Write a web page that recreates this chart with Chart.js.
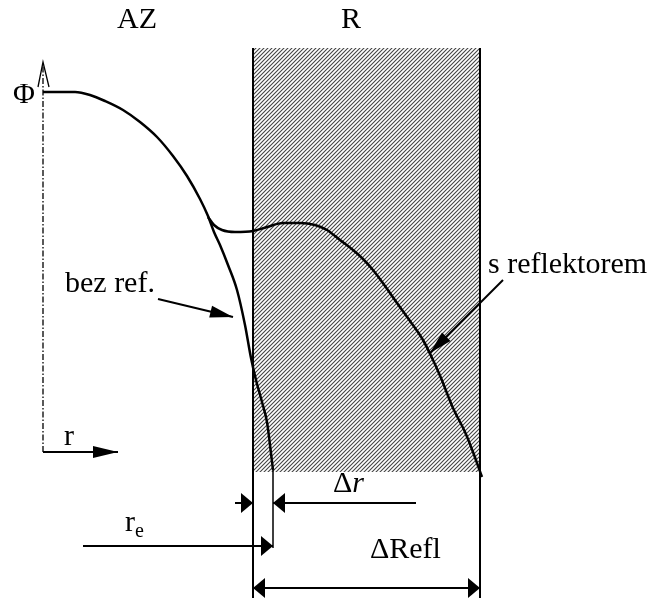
<!DOCTYPE html>
<html>
<head>
<meta charset="utf-8">
<script src="https://cdn.jsdelivr.net/npm/chart.js@4.4.1/dist/chart.umd.min.js"></script>
<style>
  html, body { margin: 0; padding: 0; background: #fff; }
  #wrap { width: 660px; height: 598px; }
</style>
</head>
<body>
<div id="wrap"><canvas id="schema" width="660" height="598"></canvas></div>
<script>
// Průběhy toku (r doprava, Φ dolů v jednotkách listu)
const bezRef = [
    [43, 92], [75, 92], [90, 95], [105, 101], [123, 110], [140, 122], [157, 137],
    [173, 156], [187, 176], [200, 199], [208, 216], [214, 232], [220, 245],
    [228, 265], [237, 290], [245, 325], [251, 358], [256, 380], [262, 402],
    [267, 422], [270, 445], [273, 470]
];
const sReflektorem = [
    [208, 217], [214, 225], [222, 230], [235, 232], [253, 231], [267, 227],
    [283, 223], [300, 223], [315, 225], [327, 230], [340, 240], [353, 250],
    [363, 259], [373, 270], [385, 286], [397, 303], [410, 321], [423, 340],
    [433, 360], [441, 378], [453, 408], [465, 432], [473, 452], [482, 477]
];

// Hranice zóny AZ / reflektoru R
const reflektorR = [253, 480];
const reflektorPhi = [48, 472];
const dolniOkraj = 598;

// Osy
const osaPhi = [[43, 452], [43, 64]];
const osaPhiHrot = [[38, 87], [43, 62], [49, 87]];
const osaR = [[43, 452], [118, 452]];

// Kóty
const deltaRKota = 503;
const reKota = 546;
const deltaReflKota = 588;
const reHrana = 273;
const reHranaPhi = [470, 548];
const deltaRKonec = 416;
const reZacatek = 83;

// Odkazové šipky k popiskům
const sipkaBezRef = [[158, 299], [233, 317]];
const sipkaSRefl = [[503, 280], [430, 353]];

const canvas = document.getElementById('schema');
const ctx2d = canvas.getContext('2d');

function hatchPattern() {
    const c = document.createElement('canvas');
    c.width = 4; c.height = 4;
    const g = c.getContext('2d');
    g.strokeStyle = '#444';
    g.lineWidth = 1.1;
    g.beginPath();
    g.moveTo(0, 4); g.lineTo(4, 0);
    g.moveTo(-1, 1); g.lineTo(1, -1);
    g.moveTo(3, 5); g.lineTo(5, 3);
    g.stroke();
    return ctx2d.createPattern(c, 'repeat');
}

const pts = arr => arr.map(p => ({ x: p[0], y: p[1] }));
const seg = (a, b) => [{ x: a[0], y: a[1] }, { x: b[0], y: b[1] }];

function line(data, width, extra) {
    return Object.assign({
        data: data,
        showLine: true,
        borderColor: '#000',
        borderWidth: width,
        pointRadius: 0,
        fill: false,
        tension: 0,
        order: 0
    }, extra || {});
}

// šipky: [odkud, kam, délka hrotu, polovina šířky]
const hroty = [
    [sipkaBezRef[0], sipkaBezRef[1], 23, 6],
    [sipkaSRefl[0], sipkaSRefl[1], 23, 6],
    [osaR[0], osaR[1], 25, 6],
    [[235, deltaRKota], [reflektorR[0], deltaRKota], 12, 10],
    [[deltaRKonec, deltaRKota], [reHrana, deltaRKota], 12, 10],
    [[reZacatek, reKota], [reHrana, reKota], 12, 10],
    [[reflektorR[1], deltaReflKota], [reflektorR[0], deltaReflKota], 12, 10],
    [[reflektorR[0], deltaReflKota], [reflektorR[1], deltaReflKota], 12, 10]
];

const popisky = [
    { t: 'AZ', x: 137, y: 28, align: 'center' },
    { t: 'R', x: 351, y: 28, align: 'center' },
    { t: 'Φ', x: 24, y: 103, align: 'center' },
    { t: 'r', x: 69, y: 445, align: 'center' },
    { t: 'bez ref.', x: 65, y: 292, align: 'left' },
    { t: 's reflektorem', x: 488, y: 273, align: 'left' },
    { t: 'ΔRefl', x: 370, y: 558, align: 'left' }
];

const schemaPlugin = {
    id: 'schemaPopisky',
    afterDatasetsDraw(chart) {
        const { ctx, scales: { x, y } } = chart;
        const px = v => x.getPixelForValue(v);
        const py = v => y.getPixelForValue(v);
        ctx.save();
        ctx.fillStyle = '#000';

        hroty.forEach(h => {
            const fx = px(h[0][0]), fy = py(h[0][1]);
            const tx = px(h[1][0]), ty = py(h[1][1]);
            const ang = Math.atan2(ty - fy, tx - fx);
            const len = h[2], half = h[3];
            const bx = tx - Math.cos(ang) * len, by = ty - Math.sin(ang) * len;
            ctx.beginPath();
            ctx.moveTo(tx, ty);
            ctx.lineTo(bx + Math.sin(ang) * half, by - Math.cos(ang) * half);
            ctx.lineTo(bx - Math.sin(ang) * half, by + Math.cos(ang) * half);
            ctx.closePath();
            ctx.fill();
        });

        ctx.font = '30px "Liberation Serif", "DejaVu Serif", serif';
        ctx.textBaseline = 'alphabetic';
        popisky.forEach(p => {
            ctx.textAlign = p.align;
            ctx.fillText(p.t, px(p.x), py(p.y));
        });

        // Δr s kurzívou
        ctx.textAlign = 'left';
        ctx.fillText('Δ', px(333), py(492));
        const dw = ctx.measureText('Δ').width;
        ctx.font = 'italic 30px "Liberation Serif", serif';
        ctx.fillText('r', px(333) + dw, py(492));

        // r s indexem e
        ctx.font = '30px "Liberation Serif", serif';
        ctx.fillText('r', px(125), py(531));
        const rw = ctx.measureText('r').width;
        ctx.font = '20px "Liberation Serif", serif';
        ctx.fillText('e', px(125) + rw, py(537));
        ctx.restore();
    }
};

new Chart(canvas, {
    type: 'scatter',
    data: {
        datasets: [
            // šrafovaný reflektor
            line(seg([reflektorR[0], reflektorPhi[0]], [reflektorR[1], reflektorPhi[0]]), 0,
                { fill: '+1', backgroundColor: hatchPattern(), order: 10 }),
            line(seg([reflektorR[0], reflektorPhi[1]], [reflektorR[1], reflektorPhi[1]]), 0, { order: 10 }),
            // hranice reflektoru
            line(seg([reflektorR[0], reflektorPhi[0]], [reflektorR[0], dolniOkraj]), 2),
            line(seg([reflektorR[1], reflektorPhi[0]], [reflektorR[1], dolniOkraj]), 2),
            // osy
            line(pts(osaPhi), 1.3, { borderDash: [6, 2, 1.5, 2] }),
            line(pts(osaPhiHrot), 1.3),
            line(pts(osaR), 2),
            // průběhy
            line(pts(bezRef), 2.5, { cubicInterpolationMode: 'monotone', tension: 0.4 }),
            line(pts(sReflektorem), 2.5, { cubicInterpolationMode: 'monotone', tension: 0.4 }),
            // odkazové šipky
            line(pts(sipkaBezRef), 2),
            line(pts(sipkaSRefl), 2),
            // kóty
            line(seg([235, deltaRKota], [reflektorR[0], deltaRKota]), 2),
            line(seg([reHrana, deltaRKota], [deltaRKonec, deltaRKota]), 2),
            line(seg([reHrana, reHranaPhi[0]], [reHrana, reHranaPhi[1]]), 1.5),
            line(seg([reZacatek, reKota], [reHrana, reKota]), 2),
            line(seg([reflektorR[0], deltaReflKota], [reflektorR[1], deltaReflKota]), 2)
        ]
    },
    options: {
        responsive: false,
        animation: false,
        layout: { padding: 0 },
        plugins: { legend: { display: false }, tooltip: { enabled: false } },
        scales: {
            x: { type: 'linear', min: 0, max: 660, display: false },
            y: { type: 'linear', min: 0, max: 598, reverse: true, display: false }
        }
    },
    plugins: [schemaPlugin]
});
</script>
</body>
</html>
